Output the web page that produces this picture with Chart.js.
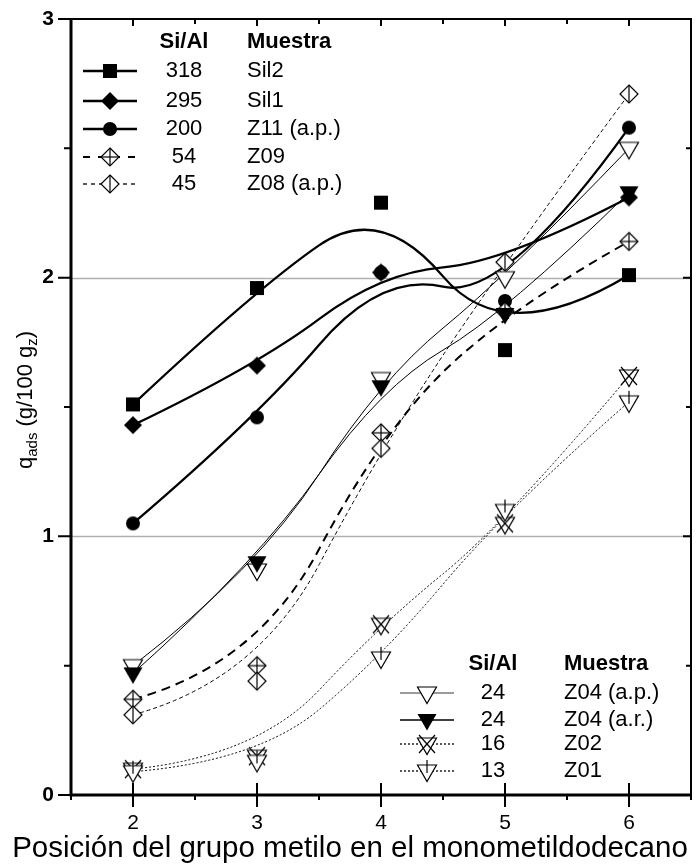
<!DOCTYPE html>
<html>
<head>
<meta charset="utf-8">
<script src="https://cdn.jsdelivr.net/npm/chart.js@4.4.1/dist/chart.umd.min.js"></script>
<style>
  html, body { margin: 0; padding: 0; background: #fff; }
  #caja { width: 696px; height: 868px; }
</style>
</head>
<body>
<div id="caja"><canvas id="adsorcion" width="696" height="868"></canvas></div>
<script>
// posicion del grupo metilo (eje x)
const posiciones = [2, 3, 4, 5, 6];

// q_ads (g/100 g_z) por muestra
const sil2 = [1.51, 1.96, 2.29, 1.72, 2.01];
const sil1 = [1.43, 1.66, 2.02, 2.06, 2.31];
const z11 = [1.05, 1.46, 2.02, 1.91, 2.58];
const z09 = [0.37, 0.50, 1.40, 1.87, 2.14];
const z08 = [0.31, 0.44, 1.34, 2.06, 2.71];
const z04ap = [0.50, 0.87, 1.61, 2.00, 2.50];
const z04ar = [0.47, 0.90, 1.58, 1.86, 2.33];
const z02 = [0.10, 0.15, 0.66, 1.05, 1.62];
const z01 = [0.09, 0.13, 0.53, 1.10, 1.52];

const muestras = ["Sil2", "Sil1", "Z11 (a.p.)", "Z09", "Z08 (a.p.)", "Z04 (a.p.)", "Z04 (a.r.)", "Z02", "Z01"];
const relacionSiAl = ["318", "295", "200", "54", "45", "24", "24", "16", "13"];

const ticksX = [2, 3, 4, 5, 6];
const ticksY = [0, 1, 2, 3];
const lineasGuia = [1, 2];

const FUENTE = "'Liberation Sans', Arial, sans-serif";

// simbolos dibujados a mano (Chart.js los usa como pointStyle)
function marcador(tipo) {
    const c = document.createElement("canvas");
    c.width = 26;
    c.height = 26;
    const g = c.getContext("2d");
    g.translate(13, 13);
    g.lineWidth = 1.2;
    g.strokeStyle = "#000";
    g.fillStyle = "#000";
    const rombo = (r) => {
        g.beginPath();
        g.moveTo(0, -r); g.lineTo(r, 0); g.lineTo(0, r); g.lineTo(-r, 0);
        g.closePath();
    };
    const triangulo = () => {
        g.beginPath();
        g.moveTo(-9.5, -6); g.lineTo(9.5, -6); g.lineTo(0, 10.5);
        g.closePath();
    };
    const linea = (x1, y1, x2, y2) => {
        g.beginPath(); g.moveTo(x1, y1); g.lineTo(x2, y2); g.stroke();
    };
    const blanco = () => { g.fillStyle = "#fff"; g.fill(); g.stroke(); };

    if (tipo === "cuadrado") g.fillRect(-7, -7, 14, 14);
    if (tipo === "rombo") { rombo(9); g.fill(); }
    if (tipo === "circulo") { g.beginPath(); g.arc(0, 0, 7, 0, Math.PI * 2); g.fill(); }
    if (tipo === "romboCruz") { rombo(9); blanco(); linea(0, -9, 0, 9); linea(-9, 0, 9, 0); }
    if (tipo === "romboBarra") { rombo(9); blanco(); linea(0, -9, 0, 9); }
    if (tipo === "trianguloAbierto") { triangulo(); blanco(); }
    if (tipo === "trianguloLleno") { triangulo(); g.fill(); }
    if (tipo === "trianguloEquis") { triangulo(); blanco(); linea(-8, -9, 8, 9); linea(8, -9, -8, 9); }
    if (tipo === "trianguloBarra") { triangulo(); blanco(); linea(0, -11, 0, 2); }
    return c;
}

const series = [
    { datos: sil2, simbolo: "cuadrado", ancho: 2.3, guion: [] },
    { datos: sil1, simbolo: "rombo", ancho: 2.3, guion: [] },
    { datos: z11, simbolo: "circulo", ancho: 2.3, guion: [] },
    { datos: z09, simbolo: "romboCruz", ancho: 2, guion: [9, 6] },
    { datos: z08, simbolo: "romboBarra", ancho: 1, guion: [4, 3] },
    { datos: z04ap, simbolo: "trianguloAbierto", ancho: 1, guion: [] },
    { datos: z04ar, simbolo: "trianguloLleno", ancho: 1, guion: [] },
    { datos: z02, simbolo: "trianguloEquis", ancho: 1, guion: [2, 2] },
    { datos: z01, simbolo: "trianguloBarra", ancho: 1, guion: [2, 2] }
];

const datasets = series.map((s, i) => ({
    label: muestras[i],
    data: posiciones.map((x, k) => ({ x: x, y: s.datos[k] })),
    showLine: false,
    pointStyle: marcador(s.simbolo),
    imagen: marcador(s.simbolo),
    trazoAncho: s.ancho,
    trazoGuion: s.guion,
    order: 9 - i
}));

// curva B-spline cuadratica usando los puntos como vertices de control
function trazarCurva(ctx, pts) {
    const n = pts.length;
    ctx.moveTo(pts[0].x, pts[0].y);
    for (let k = 1; k < n - 2; k++) {
        ctx.quadraticCurveTo(pts[k].x, pts[k].y, (pts[k].x + pts[k + 1].x) / 2, (pts[k].y + pts[k + 1].y) / 2);
    }
    ctx.quadraticCurveTo(pts[n - 2].x, pts[n - 2].y, pts[n - 1].x, pts[n - 1].y);
}

const curvas = {
    id: "curvas",
    beforeDatasetsDraw(chart) {
        const ctx = chart.ctx;
        const area = chart.chartArea;
        const y = chart.scales.y;
        ctx.save();
        // lineas grises en 1 y 2
        ctx.strokeStyle = "#b0b0b0";
        ctx.lineWidth = 1.5;
        lineasGuia.forEach(v => {
            const py = Math.round(y.getPixelForValue(v)) + 0.5;
            ctx.beginPath();
            ctx.moveTo(area.left, py);
            ctx.lineTo(area.right, py);
            ctx.stroke();
        });
        ctx.beginPath();
        ctx.rect(area.left, area.top, area.right - area.left, area.bottom - area.top);
        ctx.clip();
        chart.data.datasets.forEach((ds, i) => {
            const pts = chart.getDatasetMeta(i).data;
            ctx.strokeStyle = "#000";
            ctx.lineWidth = ds.trazoAncho;
            ctx.setLineDash(ds.trazoGuion);
            ctx.beginPath();
            trazarCurva(ctx, pts);
            ctx.stroke();
        });
        ctx.restore();
    }
};

function textoConSub(ctx, piezas, x, y) {
    let total = 0;
    piezas.forEach(p => { ctx.font = p.f; total += ctx.measureText(p.t).width; });
    let px = x - total / 2;
    piezas.forEach(p => {
        ctx.font = p.f;
        ctx.fillText(p.t, px, y + (p.dy || 0));
        px += ctx.measureText(p.t).width;
    });
}

function leyenda(ctx, chart, filas, caja) {
    ctx.textBaseline = "middle";
    ctx.font = "bold 22px " + FUENTE;
    ctx.textAlign = "center";
    ctx.fillText("Si/Al", caja.colValor, caja.yTitulo);
    ctx.textAlign = "left";
    ctx.fillText("Muestra", caja.colNombre, caja.yTitulo);
    filas.forEach((i, f) => {
        const ds = chart.data.datasets[i];
        const fy = caja.yFilas[f];
        ctx.save();
        ctx.strokeStyle = caja.grises && caja.grises[f] ? caja.grises[f] : "#000";
        ctx.lineWidth = Math.max(ds.trazoAncho, 1.3);
        ctx.setLineDash(ds.trazoGuion.length ? caja.guiones[f] || ds.trazoGuion : []);
        ctx.beginPath();
        ctx.moveTo(caja.x1, fy);
        ctx.lineTo(caja.x2, fy);
        ctx.stroke();
        ctx.restore();
        ctx.drawImage(ds.imagen, (caja.x1 + caja.x2) / 2 - 13, fy - 13);
        ctx.font = "22px " + FUENTE;
        ctx.textAlign = "center";
        ctx.fillText(relacionSiAl[i], caja.colValor, fy);
        ctx.textAlign = "left";
        ctx.fillText(muestras[i], caja.colNombre, fy);
    });
}

const marco = {
    id: "marco",
    afterDatasetsDraw(chart) {
        const ctx = chart.ctx;
        const a = chart.chartArea;
        const x = chart.scales.x;
        const y = chart.scales.y;
        ctx.save();
        ctx.strokeStyle = "#000";
        ctx.fillStyle = "#000";

        // marco
        ctx.lineWidth = 2;
        ctx.strokeRect(a.left, a.top, a.right - a.left, a.bottom - a.top);
        ctx.lineWidth = 3;
        ctx.beginPath();
        ctx.moveTo(a.left, a.top);
        ctx.lineTo(a.left, a.bottom);
        ctx.lineTo(a.right, a.bottom);
        ctx.stroke();

        // marcas de division cada 0.5
        ctx.lineWidth = 2;
        for (let v = 1.5; v <= 6.5; v += 0.5) {
            const px = x.getPixelForValue(v);
            const mayor = Number.isInteger(v);
            ctx.beginPath();
            if (mayor) {
                ctx.moveTo(px, a.bottom - 12); ctx.lineTo(px, a.bottom + 12);
            } else {
                ctx.moveTo(px, a.bottom); ctx.lineTo(px, a.bottom + 5);
            }
            ctx.moveTo(px, a.top); ctx.lineTo(px, a.top + (mayor ? 7 : 5));
            ctx.stroke();
        }
        for (let v = 0; v <= 3; v += 0.5) {
            const py = y.getPixelForValue(v);
            const mayor = Number.isInteger(v);
            ctx.beginPath();
            ctx.moveTo(a.left - (mayor ? 13 : 7), py); ctx.lineTo(a.left, py);
            ctx.moveTo(a.right, py); ctx.lineTo(a.right - (mayor ? 8 : 5), py);
            ctx.stroke();
        }

        // etiquetas de los ejes
        ctx.textBaseline = "middle";
        ctx.font = "21px " + FUENTE;
        ctx.textAlign = "center";
        ticksX.forEach(v => ctx.fillText(String(v), x.getPixelForValue(v), a.bottom + 28));
        ctx.font = "bold 21px " + FUENTE;
        ctx.textAlign = "right";
        ticksY.forEach(v => ctx.fillText(String(v), a.left - 17, y.getPixelForValue(v)));

        ctx.font = "29.5px " + FUENTE;
        ctx.textAlign = "center";
        ctx.fillText("Posición del grupo metilo en el monometildodecano", 350, 849);

        ctx.save();
        ctx.translate(25, 400);
        ctx.rotate(-Math.PI / 2);
        ctx.textAlign = "left";
        ctx.textBaseline = "alphabetic";
        const fp = "22px " + FUENTE, fs = "15px " + FUENTE;
        textoConSub(ctx, [
            { t: "q", f: fp }, { t: "ads", f: fs, dy: 5 },
            { t: " (g/100 g", f: fp }, { t: "z", f: fs, dy: 5 }, { t: ")", f: fp }
        ], 0, 7);
        ctx.restore();

        // leyendas
        leyenda(ctx, chart, [0, 1, 2, 3, 4], {
            yTitulo: 42, yFilas: [71, 101, 129, 157, 184],
            x1: 83, x2: 137, colValor: 184, colNombre: 247,
            guiones: { 3: [7, 8], 4: [4, 4] }
        });
        leyenda(ctx, chart, [5, 6, 7, 8], {
            yTitulo: 664, yFilas: [693, 720, 744, 771],
            x1: 400, x2: 454, colValor: 493, colNombre: 564,
            guiones: {}, grises: { 0: "#7a7a7a" }
        });
        ctx.restore();
    }
};

const ctx = document.getElementById("adsorcion").getContext("2d");
const grafica = new Chart(ctx, {
    type: "scatter",
    data: { datasets: datasets },
    options: {
        responsive: false,
        animation: false,
        layout: { padding: { left: 71, right: 4, top: 19, bottom: 73 } },
        scales: {
            x: { type: "linear", min: 1.5, max: 6.5, display: false },
            y: { type: "linear", min: 0, max: 3, display: false }
        },
        plugins: { legend: { display: false }, tooltip: { enabled: false } }
    },
    plugins: [curvas, marco]
});
</script>
</body>
</html>
